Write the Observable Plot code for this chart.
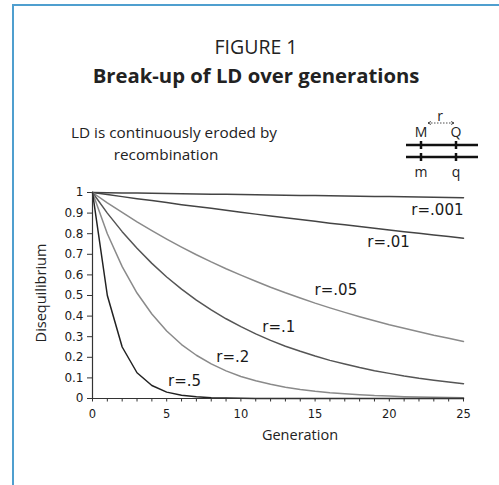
<!DOCTYPE html>
<html>
<head>
<meta charset="utf-8">
<script src="https://cdn.jsdelivr.net/npm/d3@7"></script>
<script src="https://cdn.jsdelivr.net/npm/@observablehq/plot@0.6"></script>
<style>
  html, body { margin: 0; padding: 0; background: #fff; }
  #wrap { position: relative; width: 499px; height: 485px; overflow: hidden; font-family: "Open Sans", sans-serif; color: #222; }
  #frame { position: absolute; left: 12px; top: 4px; width: 700px; height: 700px; border-left: 2px solid #4f9fcf; border-top: 2px solid #4f9fcf; }
  .t { position: absolute; white-space: nowrap; transform: translate(-50%, -50%); line-height: 1; }
  #plot { position: absolute; left: 0; top: 0; }
</style>
</head>
<body>
<div id="wrap">
  <div id="frame"></div>
  <div id="plot"></div>
  <div class="t" style="left:256px;top:47px;font-size:19.5px;">FIGURE 1</div>
  <div class="t" style="left:256px;top:75px;font-size:20.3px;font-weight:700;">Break-up of LD over generations</div>
  <div class="t" style="left:174px;top:133px;font-size:15.3px;">LD is continuously eroded by</div>
  <div class="t" style="left:166px;top:155px;font-size:15.3px;">recombination</div>
  <div class="t" style="left:300px;top:435px;font-size:14.5px;">Generation</div>
  <div class="t" style="left:41px;top:293px;font-size:14.5px;transform:translate(-50%,-50%) rotate(-90deg);">Disequilibrium</div>
  <svg style="position:absolute;left:0;top:0;" width="499" height="485">
    <g font-family="Open Sans, sans-serif" font-size="14" fill="#222" text-anchor="middle">
      <text x="440" y="121">r</text>
      <text x="421" y="137">M</text>
      <text x="456" y="137">Q</text>
      <text x="421" y="177">m</text>
      <text x="456" y="177">q</text>
    </g>
    <line x1="428" y1="123" x2="454" y2="123" stroke="#222" stroke-width="0.8" stroke-dasharray="1.5,1.5"/>
    <path d="M428,123 l3,-1.5 M428,123 l3,1.5 M454,123 l-3,-1.5 M454,123 l-3,1.5" stroke="#222" stroke-width="0.8" fill="none"/>
    <line x1="406" y1="145" x2="478" y2="145" stroke="#111" stroke-width="2.5"/>
    <line x1="406" y1="157" x2="478" y2="157" stroke="#111" stroke-width="2.5"/>
    <line x1="421" y1="141" x2="421" y2="149" stroke="#111" stroke-width="2.5"/>
    <line x1="456" y1="141" x2="456" y2="149" stroke="#111" stroke-width="2.5"/>
    <line x1="421" y1="153" x2="421" y2="161" stroke="#111" stroke-width="2.5"/>
    <line x1="456" y1="153" x2="456" y2="161" stroke="#111" stroke-width="2.5"/>
  </svg>
</div>
<script>
// Generations
const generations = [0,1,2,3,4,5,6,7,8,9,10,11,12,13,14,15,16,17,18,19,20,21,22,23,24,25];
// Disequilibrium values for each recombination rate
const r001 = [1,.999,.998,.997,.996,.995,.994,.993,.992,.991,.990,.989,.988,.987,.986,.985,.984,.983,.982,.981,.980,.979,.978,.977,.976,.975];
const r01  = [1,.990,.980,.970,.961,.951,.941,.932,.923,.914,.904,.895,.886,.878,.869,.860,.851,.843,.835,.826,.818,.810,.802,.794,.786,.778];
const r05  = [1,.950,.903,.857,.815,.774,.735,.698,.663,.630,.599,.569,.540,.513,.488,.463,.440,.418,.397,.377,.358,.341,.324,.307,.292,.277];
const r1   = [1,.900,.810,.729,.656,.590,.531,.478,.430,.387,.349,.314,.282,.254,.229,.206,.185,.167,.150,.135,.122,.109,.098,.089,.080,.072];
const r2   = [1,.800,.640,.512,.410,.328,.262,.210,.168,.134,.107,.086,.069,.055,.044,.035,.028,.023,.018,.014,.012,.009,.007,.006,.005,.004];
const r5   = [1,.500,.250,.125,.063,.031,.016,.008,.004,.002,.001,0,0,0,0,0,0,0,0,0,0,0,0,0,0,0];

const seriesNames = ["r=.001","r=.01","r=.05","r=.1","r=.2","r=.5"];
const seriesValues = [r001, r01, r05, r1, r2, r5];
const seriesColors = ["#444","#444","#8a8a8a","#555","#8a8a8a","#222"];

// Label anchor points (generation, disequilibrium)
const labelGen = [25, 19.95, 16.4, 12.55, 9.45, 6.2];
const labelVal = [0.915, 0.758, 0.528, 0.345, 0.2, 0.083];
const labelAnchor = ["end","middle","middle","middle","middle","middle"];

const yTicks = [0,0.1,0.2,0.3,0.4,0.5,0.6,0.7,0.8,0.9,1];
const yTickLabels = ["0","0.1","0.2","0.3","0.4","0.5","0.6","0.7","0.8","0.9","1"];
const xMajor = [0,5,10,15,20,25];

const rows = [];
seriesNames.forEach((name, i) => {
  generations.forEach((g, j) => rows.push({series: name, gen: g, d: seriesValues[i][j], color: seriesColors[i]}));
});
const labels = seriesNames.map((name, i) => ({name, gen: labelGen[i], d: labelVal[i], anchor: labelAnchor[i]}));

const numFont = "DejaVu Sans, Verdana, sans-serif";

const chart = Plot.plot({
  width: 499,
  height: 485,
  marginLeft: 92,
  marginRight: 36,
  marginTop: 192,
  marginBottom: 87,
  style: {background: "transparent", fontFamily: numFont, color: "#1a1a1a"},
  x: {domain: [0, 25]},
  y: {domain: [0, 1]},
  marks: [
    Plot.axisY({ticks: yTicks, tickSize: 5, tickPadding: 4, tickFormat: (d, i) => yTickLabels[i], label: null, fontSize: 12, stroke: "#333"}),
    Plot.axisX({ticks: generations, tickSize: 3.5, tickFormat: () => "", label: null, stroke: "#333"}),
    Plot.axisX({ticks: xMajor, tickSize: 0, tickPadding: 11, tickFormat: d => String(d), label: null, fontSize: 11.5}),
    ...seriesNames.map((name, i) =>
      Plot.line(rows.filter(r => r.series === name), {x: "gen", y: "d", stroke: seriesColors[i], strokeWidth: 1.5})
    ),
    Plot.ruleY([0], {stroke: "#333", strokeWidth: 1.2}),
    Plot.ruleX([0], {stroke: "#333", strokeWidth: 1.2}),
    ...["end", "middle"].map(a =>
      Plot.text(labels.filter(l => l.anchor === a), {x: "gen", y: "d", text: "name", textAnchor: a, fontSize: 15, fill: "#1a1a1a", fontFamily: numFont})
    )
  ]
});
document.getElementById("plot").appendChild(chart);
</script>
</body>
</html>
